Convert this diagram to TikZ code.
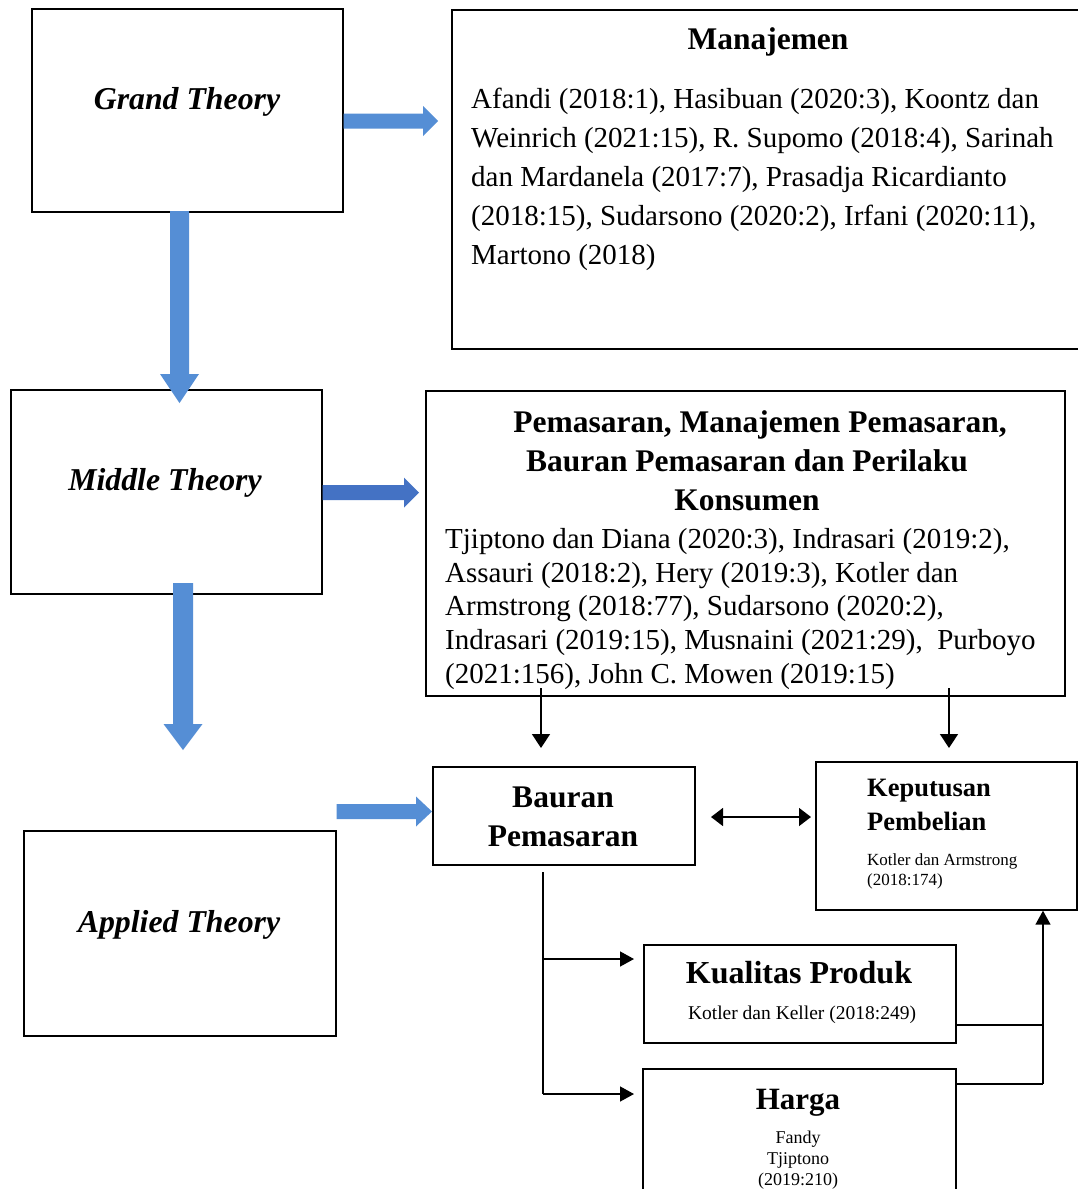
\documentclass[tikz,border=0pt]{standalone}
\usepackage{fontspec}
\setmainfont{Liberation Serif}
\usetikzlibrary{arrows.meta,calc}
\definecolor{fatblue}{RGB}{85,142,213}
\definecolor{fatbluedark}{RGB}{68,114,196}
% #1 colour, #2 start, #3 tip, #4 shaft half width, #5 head half width, #6 head length
\newcommand{\fatright}[6]{\fill[#1] ($(#2)+(0,-#4)$) -- ($(#3)+(-#6,-#4)$) -- ($(#3)+(-#6,-#5)$) -- (#3) -- ($(#3)+(-#6,#5)$) -- ($(#3)+(-#6,#4)$) -- ($(#2)+(0,#4)$) -- cycle;}
\newcommand{\fatdown}[6]{\fill[#1] ($(#2)+(-#4,0)$) -- ($(#3)+(-#4,-#6)$) -- ($(#3)+(-#5,-#6)$) -- (#3) -- ($(#3)+(#5,-#6)$) -- ($(#3)+(#4,-#6)$) -- ($(#2)+(#4,0)$) -- cycle;}
\begin{document}
\begin{tikzpicture}[x=1pt,y=-1pt,
  box/.style={draw, line width=1.7pt, inner sep=0pt, anchor=north west},
  theory/.style={anchor=base, inner sep=0pt, font=\fontsize{31.8}{38}\selectfont\bfseries\itshape},
  title/.style={anchor=base, inner sep=0pt, font=\fontsize{31.5}{38}\selectfont\bfseries},
  body/.style={anchor=base west, inner sep=0pt, font=\fontsize{29}{35}\selectfont},
  conn/.style={line width=1.5pt},
  arr/.style={line width=1.5pt, -{Triangle[width=18pt,length=14pt]}},
  sarr/.style={line width=1.5pt, -{Triangle[width=15pt,length=14pt]}},
  darr/.style={line width=1.5pt, {Triangle[width=18pt,length=12pt]}-{Triangle[width=18pt,length=12pt]}}]
\useasboundingbox (0,0) rectangle (1077,1189);
\fill[white] (0,0) rectangle (1077,1189);

% boxes
\node[box, minimum width=311pt, minimum height=203pt] (gt) at (31,8) {};
\node[box, minimum width=640pt, minimum height=339pt] (man) at (451,9) {};
\node[box, minimum width=311pt, minimum height=204pt] (mt) at (10,389) {};
\node[box, minimum width=639pt, minimum height=305pt] (pem) at (425,390) {};
\node[box, minimum width=312pt, minimum height=205pt] (at) at (23,830) {};
\node[box, minimum width=262pt, minimum height=98pt] (bp) at (432,766) {};
\node[box, minimum width=261pt, minimum height=148pt] (kp) at (815,761) {};
\node[box, minimum width=312pt, minimum height=98pt] (kq) at (643,944) {};
\node[box, minimum width=313pt, minimum height=140pt] (hg) at (642,1068) {};

% theory labels
\node[theory] (gtt) at (187,109) {Grand Theory};
\node[theory] (mtt) at (165,490) {Middle Theory};
\node[theory] (att) at (179,932) {Applied Theory};

% Manajemen
\node[title] (mant) at (768,49) {Manajemen};
\node[body] (man1) at (471,108) {Afandi (2018:1), Hasibuan (2020:3), Koontz dan};
\node[body] (man2) at (471,147) {Weinrich (2021:15), R. Supomo (2018:4), Sarinah};
\node[body] (man3) at (471,186) {dan Mardanela (2017:7), Prasadja Ricardianto};
\node[body] (man4) at (471,225) {(2018:15), Sudarsono (2020:2), Irfani (2020:11),};
\node[body] (man5) at (471,264) {Martono (2018)};

% Pemasaran
\node[title] (pemt1) at (760,432) {Pemasaran, Manajemen Pemasaran,};
\node[title] (pemt2) at (747,471) {Bauran Pemasaran dan Perilaku};
\node[title] (pemt3) at (747,510) {Konsumen};
\node[body] (pem1) at (445,548) {Tjiptono dan Diana (2020:3), Indrasari (2019:2),};
\node[body] (pem2) at (445,582) {Assauri (2018:2), Hery (2019:3), Kotler dan};
\node[body] (pem3) at (445,615) {Armstrong (2018:77), Sudarsono (2020:2),};
\node[body] (pem4) at (445,649) {Indrasari (2019:15), Musnaini (2021:29),\ \ Purboyo};
\node[body] (pem5) at (445,683) {(2021:156), John C. Mowen (2019:15)};

% Bauran Pemasaran
\node[title] (bpt1) at (563,807) {Bauran};
\node[title] (bpt2) at (563,846) {Pemasaran};

% Keputusan Pembelian
\node[anchor=base west, inner sep=0pt, font=\fontsize{26.5}{32}\selectfont\bfseries] (kpt1) at (867,796) {Keputusan};
\node[anchor=base west, inner sep=0pt, font=\fontsize{26.5}{32}\selectfont\bfseries] (kpt2) at (867,830) {Pembelian};
\node[anchor=base west, inner sep=0pt, font=\fontsize{17}{20}\selectfont] (kps1) at (867,865) {Kotler dan Armstrong};
\node[anchor=base west, inner sep=0pt, font=\fontsize{17}{20}\selectfont] (kps2) at (867,885) {(2018:174)};

% Kualitas Produk
\node[anchor=base, inner sep=0pt, font=\fontsize{32}{38}\selectfont\bfseries] (kqt) at (799,983) {Kualitas Produk};
\node[anchor=base, inner sep=0pt, font=\fontsize{19.5}{23}\selectfont] (kqs) at (802,1019) {Kotler dan Keller (2018:249)};

% Harga
\node[anchor=base, inner sep=0pt, font=\fontsize{31}{37}\selectfont\bfseries] (hgt) at (798,1109) {Harga};
\node[anchor=base, inner sep=0pt, font=\fontsize{18}{21}\selectfont] (hgs1) at (798,1143) {Fandy};
\node[anchor=base, inner sep=0pt, font=\fontsize{18}{21}\selectfont] (hgs2) at (798,1164) {Tjiptono};
\node[anchor=base, inner sep=0pt, font=\fontsize{18}{21}\selectfont] (hgs3) at (798,1185) {(2019:210)};

% fat blue arrows
\coordinate (a1s) at (gt.east |- 0,121);
\coordinate (a1t) at (438,121);
\fatright{fatblue}{a1s}{a1t}{7.5}{15}{15}
\coordinate (a2s) at (179.5,211);
\coordinate (a2t) at (179.5,403);
\fatdown{fatblue}{a2s}{a2t}{9.5}{19.5}{29}
\coordinate (a3s) at (mt.east |- 0,492.5);
\coordinate (a3t) at (419,492.5);
\fatright{fatbluedark}{a3s}{a3t}{7.5}{15}{15}
\coordinate (a4s) at (183,583);
\coordinate (a4t) at (183,750);
\fatdown{fatblue}{a4s}{a4t}{10}{19.5}{26}
\coordinate (a5s) at (at.east |- 0,811.5);
\coordinate (a5t) at (432,811.5);
\fatright{fatblue}{a5s}{a5t}{7.5}{15}{16}

% thin connectors
\coordinate (p1s) at (541,688);
\coordinate (p1t) at (541,748);
\coordinate (p2s) at (949,688);
\coordinate (p2t) at (949,748);
\draw[arr] (p1s) -- (p1t);
\draw[arr] (p2s) -- (p2t);

\coordinate (dA) at (711,817);
\coordinate (dB) at (811,817);
\draw[darr] (dA) -- (dB);

\coordinate (v0) at (543,872);
\coordinate (v1) at (543,959);
\coordinate (v2) at (543,1094);
\coordinate (kqin) at (634,959);
\coordinate (hgin) at (634,1094);
\draw[conn] (v0) -- (v2);
\draw[sarr] (v1) -- (kqin);
\draw[sarr] (v2) -- (hgin);

\coordinate (r1) at (kq.east |- 0,1025);
\coordinate (r1b) at (1043,1025);
\coordinate (r2) at (hg.east |- 0,1084);
\coordinate (r2b) at (1043,1084);
\coordinate (kpin) at (kp.south -| r2b);
\draw[conn] (r1) -- (r1b);
\draw[conn] (r2) -- (r2b);
\draw[sarr] (r2b) -- (kpin);
\end{tikzpicture}
\end{document}
